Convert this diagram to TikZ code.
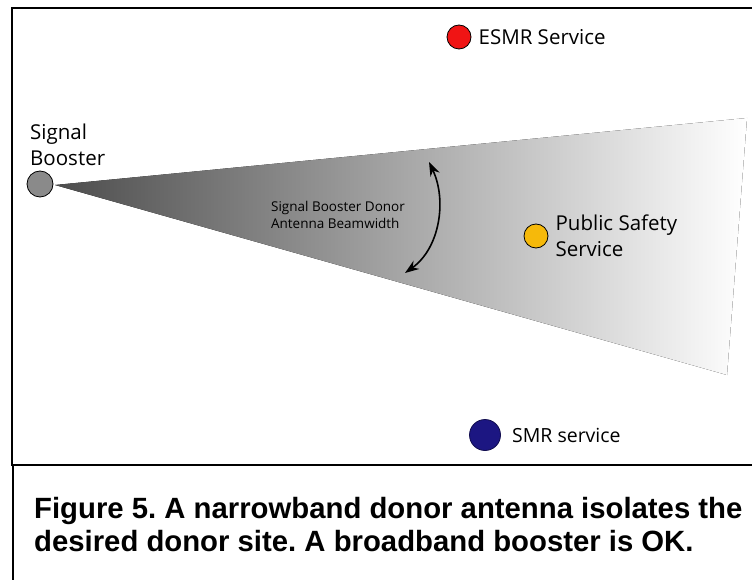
\documentclass[tikz,border=0pt]{standalone}
\usepackage{fontspec}
\setmainfont{Liberation Sans}
\newfontfamily\lblfont{Open Sans}
\usepackage{xcolor}
\usetikzlibrary{arrows.meta,positioning,calc}

\definecolor{esmrred}{HTML}{F01414}
\definecolor{safetygold}{HTML}{F6B90A}
\definecolor{smrblue}{HTML}{1C1682}
\definecolor{boostgray}{HTML}{8A8A8A}

\frenchspacing
\begin{document}
\begin{tikzpicture}[
    x=1pt, y=-1pt,
    site/.style={circle, draw=black, line width=0.8pt, inner sep=0pt},
    sitelabel/.style={font=\lblfont\fontsize{20.5}{26}\selectfont, align=left, inner sep=0pt},
    frame/.style={draw=black, line width=2pt}
]
    \useasboundingbox (0,0) rectangle (752,580);
    \clip (0,0) rectangle (752,580);

    % Frames
    \draw[frame] (12,8) rectangle (770,465);
    \draw[frame] (13,465) rectangle (770,600);

    % Beam
    \coordinate (apex) at (55,185);
    \coordinate (beamtop) at (747,118);
    \coordinate (beambot) at (727,375);
    \fill[left color=black!70, right color=white, shading angle=90]
        (apex) -- (beamtop) -- (beambot) -- cycle;

    % Sites
    \node[site, fill=boostgray, minimum size=26pt] (booster) at (40,184) {};
    \node[site, fill=esmrred, minimum size=24pt] (esmr) at (459,37) {};
    \node[site, fill=safetygold, minimum size=24pt] (pubsafe) at (536,236) {};
    \node[site, draw=smrblue!60!black, fill=smrblue, minimum size=31pt] (smr) at (485,435) {};

    % Labels
    \node[sitelabel, anchor=south west] (boosterlbl) at (30,166) {Signal\\Booster};
    \node[sitelabel, right=7pt of esmr] (esmrlbl) {ESMR Service};
    \node[sitelabel, right=7pt of pubsafe] (pubsafelbl) {Public Safety\\Service};
    \node[sitelabel, font=\lblfont\fontsize{19.5}{24}\selectfont, right=11pt of smr] (smrlbl) {SMR service};

    % Beamwidth
    \node[font=\lblfont\fontsize{13.5}{17}\selectfont, align=left] (beamlbl) at (338,215)
        {Signal Booster Donor\\Antenna Beamwidth};
    \coordinate (bwlow) at (405,273);
    \coordinate (bwhigh) at (429,162);
    \draw[{Stealth[length=14pt,width=10pt]}-{Stealth[length=14pt,width=10pt]}, line width=1.6pt]
        (bwlow) .. controls (440,248) and (447,200) .. (bwhigh);

    % Caption
    \node[anchor=base west, align=left, inner sep=0pt,
          font=\bfseries\fontsize{29.3}{33}\selectfont] (caption) at (34,551)
        {Figure 5. A narrowband donor antenna isolates the\\
         desired donor site. A broadband booster is OK.};
\end{tikzpicture}
\end{document}
